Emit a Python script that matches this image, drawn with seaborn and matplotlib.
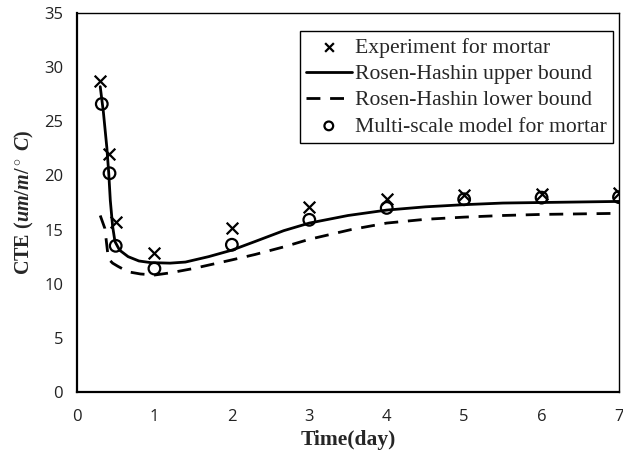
import matplotlib
matplotlib.use("Agg")
import matplotlib.pyplot as plt
import seaborn as sns
import pandas as pd

# Data
exp_t = [0.3, 0.41, 0.51, 1.0, 2.0, 3.0, 4.0, 5.0, 6.0, 7.0]
exp_cte = [28.7, 22.0, 15.7, 12.8, 15.1, 17.1, 17.8, 18.2, 18.3, 18.4]

model_t = [0.32, 0.42, 0.5, 1.0, 2.0, 3.0, 4.0, 5.0, 6.0, 7.0]
model_cte = [26.6, 20.2, 13.5, 11.4, 13.6, 15.9, 17.0, 17.8, 17.95, 18.0]

upper_t = [0.3, 0.34, 0.385, 0.41, 0.43, 0.46, 0.49, 0.55, 0.66, 0.8, 0.95, 1.2,
           1.4, 1.7, 2.0, 2.3, 2.67, 3.0, 3.5, 4.0, 4.5, 5.0, 5.5, 6.0, 6.5, 7.0]
upper_cte = [28.2, 25.9, 22.6, 20.2, 17.7, 15.3, 13.9, 13.1, 12.5, 12.1, 11.95, 11.9,
             12.0, 12.5, 13.1, 13.9, 14.9, 15.6, 16.3, 16.8, 17.1, 17.3, 17.45, 17.5, 17.55, 17.6]

lower_t = [0.3, 0.36, 0.405, 0.46, 0.53, 0.66, 0.82, 1.0, 1.2, 1.5, 2.0, 2.3, 2.67,
           3.0, 3.54, 4.0, 4.5, 5.0, 5.5, 6.0, 6.5, 7.0]
lower_cte = [16.3, 15.1, 12.3, 11.9, 11.6, 11.1, 10.9, 10.8, 11.0, 11.4, 12.2, 12.7, 13.4,
             14.1, 15.0, 15.6, 15.95, 16.15, 16.3, 16.4, 16.45, 16.5]

x_ticks = [0, 1, 2, 3, 4, 5, 6, 7]
y_ticks = [0, 5, 10, 15, 20, 25, 30, 35]

sns.set_style("white")
plt.rcParams['font.family'] = ['Open Sans', 'DejaVu Sans']
plt.rcParams['mathtext.fontset'] = 'custom'
plt.rcParams['mathtext.it'] = 'Liberation Serif:italic:bold'
plt.rcParams['mathtext.rm'] = 'Liberation Serif:bold'
plt.rcParams['mathtext.bf'] = 'Liberation Serif:bold'

fig = plt.figure(figsize=(6.23, 4.58), dpi=100)
ax = fig.add_axes([0.1236, 0.1441, 0.8700, 0.8275])

df_exp = pd.DataFrame({"t": exp_t, "v": exp_cte})
df_mod = pd.DataFrame({"t": model_t, "v": model_cte})
df_up = pd.DataFrame({"t": upper_t, "v": upper_cte})
df_lo = pd.DataFrame({"t": lower_t, "v": lower_cte})

sns.scatterplot(data=df_exp, x="t", y="v", ax=ax, marker="x", s=70, color="black",
                linewidth=1.6, label="Experiment for mortar", zorder=4)
sns.lineplot(data=df_up, x="t", y="v", ax=ax, color="black", linewidth=2.0,
             label="Rosen-Hashin upper bound", sort=False, zorder=3)
sns.lineplot(data=df_lo, x="t", y="v", ax=ax, color="black", linewidth=2.0,
             linestyle=(0, (5, 3.5)), label="Rosen-Hashin lower bound", sort=False, zorder=3)
sns.scatterplot(data=df_mod, x="t", y="v", ax=ax, marker="o", s=70, facecolor="none",
                edgecolor="black", linewidth=1.6, label="Multi-scale model for mortar", zorder=4)

ax.set_xlim(0, 7)
ax.set_ylim(0, 35)
ax.set_xticks(x_ticks)
ax.set_yticks(y_ticks)
ax.tick_params(axis="both", direction="in", length=4, width=1, labelsize=12,
               colors="black")
ax.tick_params(axis="x", pad=12)
ax.tick_params(axis="y", pad=10)
for lab in ax.get_xticklabels() + ax.get_yticklabels():
    lab.set_color("#222222")

for side in ["left", "bottom", "top", "right"]:
    ax.spines[side].set_visible(True)
    ax.spines[side].set_color("black")
ax.spines["left"].set_linewidth(1.6)
ax.spines["bottom"].set_linewidth(1.6)
ax.spines["top"].set_linewidth(1.0)
ax.spines["right"].set_linewidth(1.0)

ax.set_xlabel("Time(day)", fontsize=15.5, fontweight="bold", family="Liberation Serif", labelpad=4)
ax.set_ylabel(r"CTE $(um/m/^\circ\ C)$", fontsize=14.5, fontweight="bold",
              family="Liberation Serif", labelpad=6)

leg = ax.legend(loc="upper right", bbox_to_anchor=(0.989, 0.952), borderaxespad=0,
                frameon=True, fancybox=False, edgecolor="black", framealpha=1,
                prop={"family": "Liberation Serif", "size": 15.6}, labelspacing=0.28,
                handlelength=2.1, handletextpad=0.15, borderpad=0.3, markerscale=0.75)
leg.get_frame().set_linewidth(1.0)

fig.savefig("out.png", dpi=100)
